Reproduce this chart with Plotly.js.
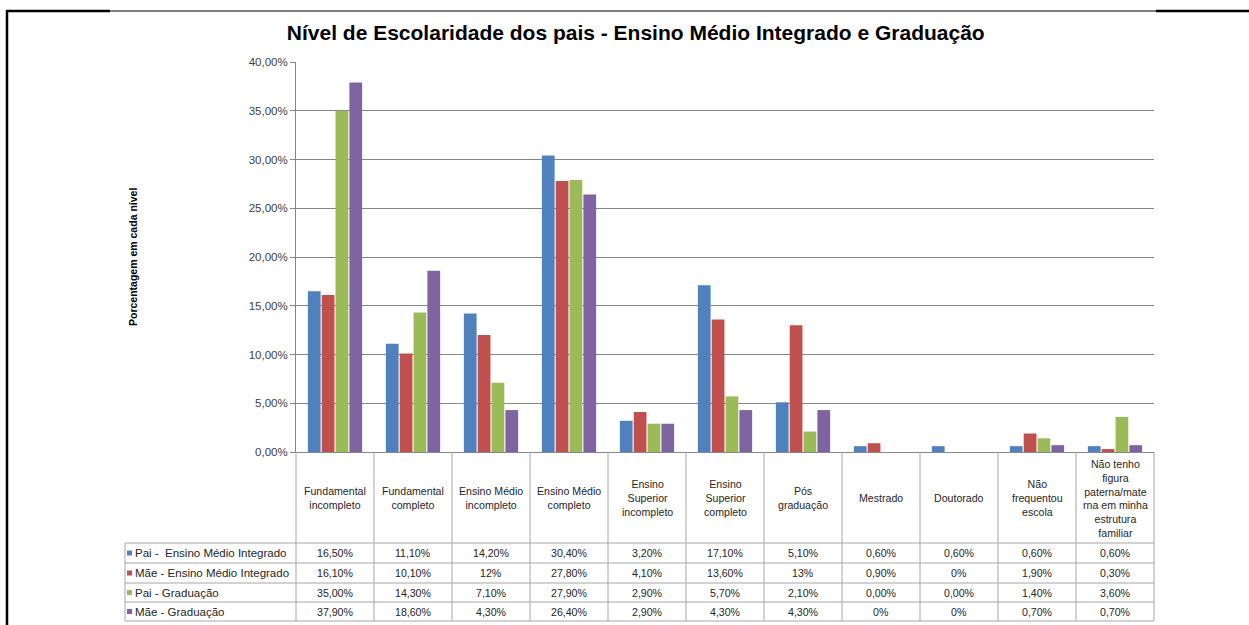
<!DOCTYPE html>
<html>
<head>
<meta charset="utf-8">
<script src="https://cdn.plot.ly/plotly-3.0.1.min.js"></script>
<style>html,body{margin:0;padding:0;background:#fff;}#chart{width:1249px;height:625px;}</style>
</head>
<body>
<div id="chart"></div>
<script>
const categories = ["Fundamental incompleto","Fundamental completo","Ensino Médio incompleto","Ensino Médio completo","Ensino Superior incompleto","Ensino Superior completo","Pós graduação","Mestrado","Doutorado","Não frequentou escola","Não tenho figura paterna/materna em minha estrutura familiar"];
const headerLabels = ["Fundamental<br>incompleto","Fundamental<br>completo","Ensino Médio<br>incompleto","Ensino Médio<br>completo","Ensino<br>Superior<br>incompleto","Ensino<br>Superior<br>completo","Pós<br>graduação","Mestrado","Doutorado","Não<br>frequentou<br>escola","Não tenho<br>figura<br>paterna/mate<br>rna em minha<br>estrutura<br>familiar"];
const seriesNames = ["Pai -  Ensino Médio Integrado","Mãe - Ensino Médio Integrado","Pai - Graduação","Mãe - Graduação"];
const paiEMI  = [16.5, 11.1, 14.2, 30.4, 3.2, 17.1, 5.1, 0.6, 0.6, 0.6, 0.6];
const maeEMI  = [16.1, 10.1, 12.0, 27.8, 4.1, 13.6, 13.0, 0.9, 0.0, 1.9, 0.3];
const paiGrad = [35.0, 14.3, 7.1, 27.9, 2.9, 5.7, 2.1, 0.0, 0.0, 1.4, 3.6];
const maeGrad = [37.9, 18.6, 4.3, 26.4, 2.9, 4.3, 4.3, 0.0, 0.0, 0.7, 0.7];
const paiEMILabels  = ["16,50%","11,10%","14,20%","30,40%","3,20%","17,10%","5,10%","0,60%","0,60%","0,60%","0,60%"];
const maeEMILabels  = ["16,10%","10,10%","12%","27,80%","4,10%","13,60%","13%","0,90%","0%","1,90%","0,30%"];
const paiGradLabels = ["35,00%","14,30%","7,10%","27,90%","2,90%","5,70%","2,10%","0,00%","0,00%","1,40%","3,60%"];
const maeGradLabels = ["37,90%","18,60%","4,30%","26,40%","2,90%","4,30%","4,30%","0%","0%","0,70%","0,70%"];
const colors = ["#4F81BD","#C0504D","#9BBB59","#8064A2"];

const W = 1249, H = 625;
const L = 296, R = 1154, T = 62, B = 452;
const px = x => (x - L) / (R - L);
const py = y => (B - y) / (B - T);

const allValues = [paiEMI, maeEMI, paiGrad, maeGrad];
const allLabels = [paiEMILabels, maeEMILabels, paiGradLabels, maeGradLabels];

const traces = allValues.map((vals, i) => ({
  type: 'bar', x: categories, y: vals, name: seriesNames[i],
  marker: {color: colors[i], line: {width: 0}}, hoverinfo: 'skip'
}));

const tableFont = {family: 'Liberation Sans, Arial, sans-serif', size: 10.6, color: '#262626'};
const lineColor = '#A6A6A6';
const rowLines = [543, 563, 583, 602, 621];
const shapes = [];
const annotations = [];

rowLines.forEach(y => shapes.push({type:'line', xref:'paper', yref:'paper', x0:px(125), x1:px(R), y0:py(y), y1:py(y), line:{color:lineColor, width:1}}));
for (let i = 0; i <= categories.length; i++) {
  const x = L + i * (R - L) / categories.length;
  shapes.push({type:'line', xref:'paper', yref:'paper', x0:px(x), x1:px(x), y0:py(B), y1:py(rowLines[4]), line:{color:lineColor, width:1}});
}
shapes.push({type:'line', xref:'paper', yref:'paper', x0:px(125), x1:px(125), y0:py(rowLines[0]), y1:py(rowLines[4]), line:{color:lineColor, width:1}});

categories.forEach((c, i) => annotations.push({xref:'x', yref:'paper', x:c, y:py(498), text:headerLabels[i], showarrow:false, font:tableFont, xanchor:'center', yanchor:'middle', align:'center'}));

allLabels.forEach((labels, r) => {
  const yc = (rowLines[r] + rowLines[r+1]) / 2;
  shapes.push({type:'rect', xref:'paper', yref:'paper', x0:px(127), x1:px(132), y0:py(yc+2.5), y1:py(yc-2.5), fillcolor:colors[r], line:{width:0}});
  annotations.push({xref:'paper', yref:'paper', x:px(133), y:py(yc), text:seriesNames[r].replace(/  /g,'&nbsp; '), showarrow:false, font:{family:'Liberation Sans, Arial, sans-serif', size:11.5, color:'#262626'}, xanchor:'left', yanchor:'middle'});
  labels.forEach((t, i) => annotations.push({xref:'x', yref:'paper', x:categories[i], y:py(yc), text:t, showarrow:false, font:tableFont, xanchor:'center', yanchor:'middle'}));
});

annotations.push({xref:'paper', yref:'paper', x:px(133), y:py(257), text:'<b>Porcentagem em cada nível</b>', textangle:-90, showarrow:false, font:{family:'Liberation Sans, Arial, sans-serif', size:10.5, color:'#000'}, xanchor:'center', yanchor:'middle'});

shapes.push({type:'line', xref:'paper', yref:'paper', x0:px(7), x1:px(7), y0:py(10), y1:py(H), line:{color:'#000', width:2.5}});
shapes.push({type:'line', xref:'paper', yref:'paper', x0:px(6), x1:px(110), y0:py(11), y1:py(11), line:{color:'#000', width:2.5}});
shapes.push({type:'line', xref:'paper', yref:'paper', x0:px(110), x1:px(1156), y0:py(11), y1:py(11), line:{color:'#000', width:1.2}});
shapes.push({type:'line', xref:'paper', yref:'paper', x0:px(1156), x1:px(W), y0:py(11), y1:py(11), line:{color:'#000', width:2.5}});

const layout = {
  width: W, height: H,
  margin: {l: L, r: W - R, t: T, b: H - B, pad: 0},
  paper_bgcolor: '#fff', plot_bgcolor: '#fff',
  separators: ',.',
  showlegend: false,
  barmode: 'group', bargap: 0.29, bargroupgap: 0.08,
  title: {text: 'Nível de Escolaridade dos pais - Ensino Médio Integrado e Graduação', x: 0.509, xanchor: 'center', y: 1 - 33/H, yanchor: 'middle',
          font: {family: 'Liberation Sans, Arial, sans-serif', size: 21, color: '#000', weight: 'bold'}},
  xaxis: {type: 'category', showticklabels: false, ticks: '', showgrid: false, zeroline: false, showline: true, linecolor: '#868686', linewidth: 1, fixedrange: true},
  yaxis: {range: [0, 40], dtick: 5, tickformat: '.2f', ticksuffix: '%', showgrid: true, gridcolor: '#868686', gridwidth: 1,
          zeroline: false, showline: true, linecolor: '#868686', linewidth: 1, ticks: 'outside', ticklen: 5, tickcolor: '#868686',
          tickfont: {family: 'Liberation Sans, Arial, sans-serif', size: 11.5, color: '#404040'}, fixedrange: true},
  shapes: shapes,
  annotations: annotations
};

Plotly.newPlot('chart', traces, layout, {displayModeBar: false, staticPlot: true});
</script>
</body>
</html>
